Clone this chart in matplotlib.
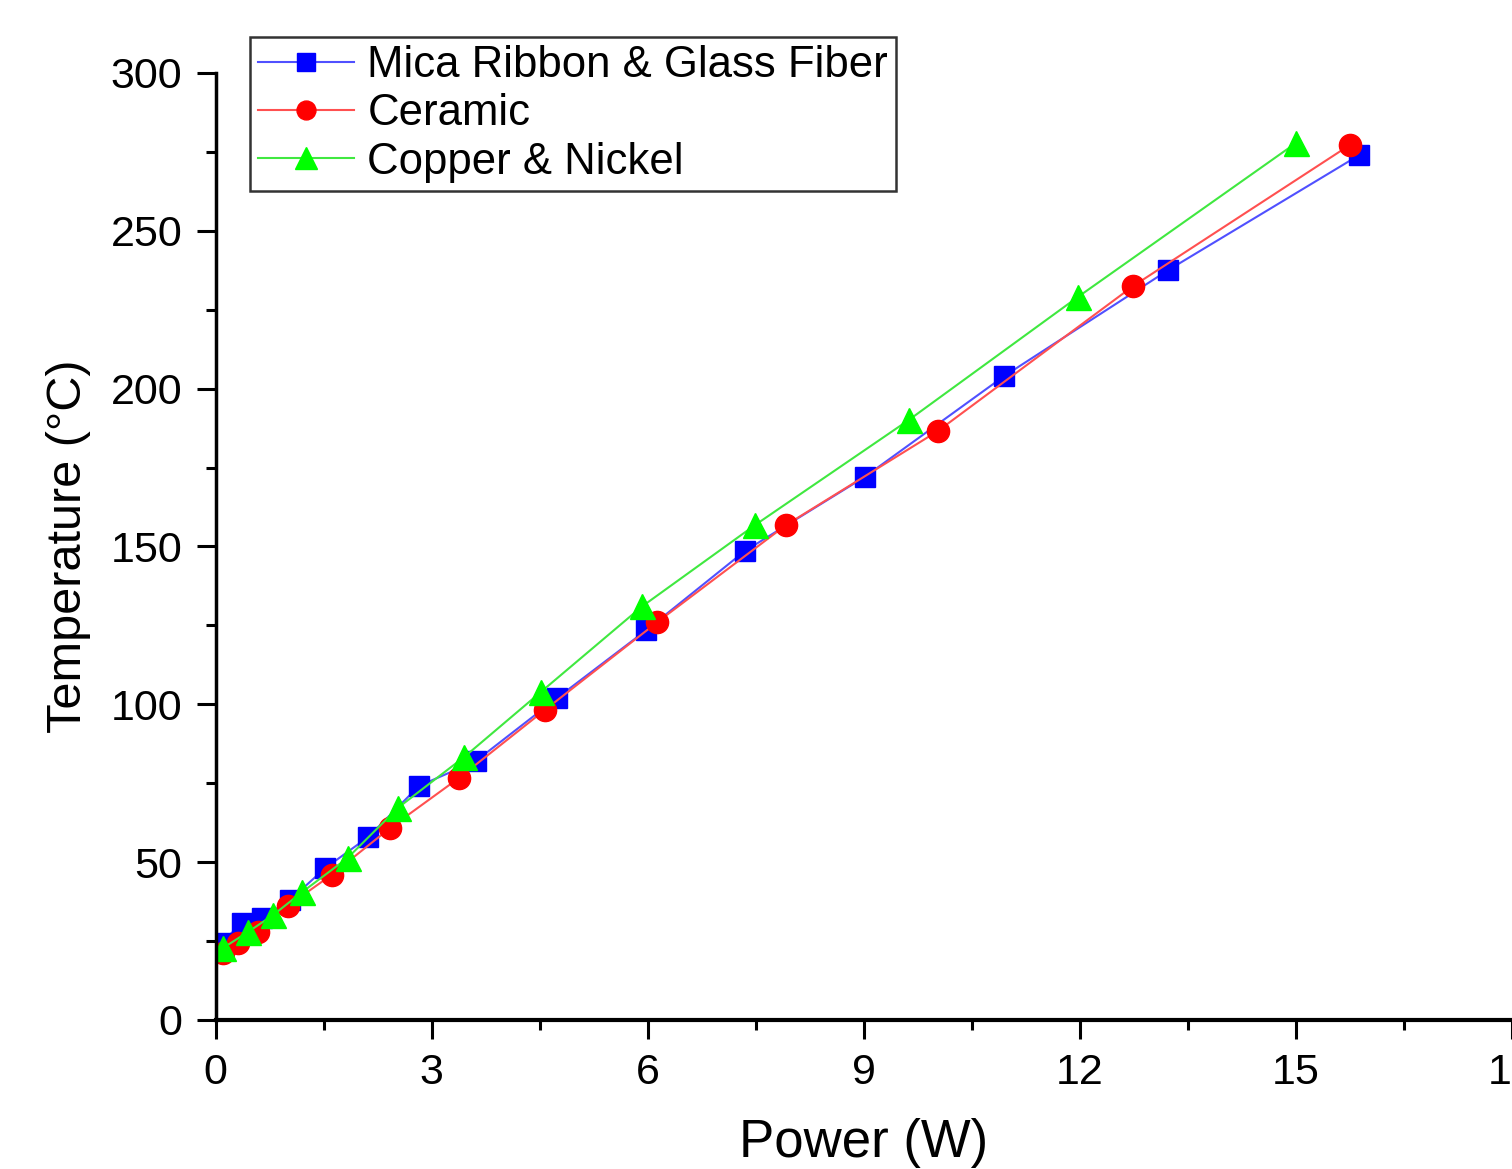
import matplotlib.pyplot as plt
from matplotlib.ticker import MultipleLocator

# heater measurements: power (W) vs temperature (°C)
mica_power = [0.08, 0.36, 0.64, 1.03, 1.52, 2.12, 2.82, 3.61, 4.74, 5.98, 7.35, 9.01, 10.95, 13.23, 15.88]
mica_temp = [24.4, 30.7, 32.3, 38.0, 48.1, 58.0, 74.1, 82.0, 102.0, 123.5, 148.6, 172.0, 204.0, 237.6, 274.0]

ceramic_power = [0.10, 0.31, 0.59, 1.00, 1.61, 2.42, 3.38, 4.57, 6.13, 7.92, 10.03, 12.74, 15.75]
ceramic_temp = [21.2, 24.4, 27.9, 36.1, 46.0, 60.8, 76.7, 98.2, 126.0, 156.8, 186.6, 232.5, 277.2]

copper_power = [0.10, 0.45, 0.80, 1.20, 1.83, 2.53, 3.45, 4.52, 5.92, 7.49, 9.62, 11.97, 15.00]
copper_temp = [22.8, 27.9, 33.3, 40.5, 51.3, 67.2, 83.3, 104.0, 131.0, 156.8, 190.0, 229.0, 277.8]

plt.rcParams['font.family'] = ['Liberation Sans', 'DejaVu Sans']

fig = plt.figure(figsize=(15.12, 11.69), dpi=100)
ax = fig.add_axes([0.1427, 0.1275, 0.8573, 0.8101])

ax.plot(mica_power, mica_temp, color='#5050ff', lw=1.5, marker='s', ms=15,
        mfc='#0000ff', mec='#0000ff', label='Mica Ribbon & Glass Fiber')
ax.plot(ceramic_power, ceramic_temp, color='#ff5050', lw=1.5, marker='o', ms=16,
        mfc='#ff0000', mec='#ff0000', label='Ceramic')
ax.plot(copper_power, copper_temp, color='#40e840', lw=1.5, marker='^', ms=18,
        mfc='#00ff00', mec='#00ff00', label='Copper & Nickel')

ax.set_xlim(0, 18)
ax.set_ylim(0, 300)
ax.xaxis.set_major_locator(MultipleLocator(3))
ax.xaxis.set_minor_locator(MultipleLocator(1.5))
ax.yaxis.set_major_locator(MultipleLocator(50))
ax.yaxis.set_minor_locator(MultipleLocator(25))

ax.spines['top'].set_visible(False)
ax.spines['right'].set_visible(False)
ax.spines['left'].set_linewidth(2.5)
ax.spines['bottom'].set_linewidth(3)
ax.tick_params(which='major', direction='out', length=14, width=2.2, labelsize=31, pad=10)
ax.tick_params(which='minor', direction='out', length=7, width=2.2)

ax.set_xlabel('Power (W)', fontsize=38, labelpad=18)
ax.set_ylabel('Temperature (°C)', fontsize=35, labelpad=14)

leg = ax.legend(loc='upper left', bbox_to_anchor=(250 / 1512, 1 - 37 / 1169),
                bbox_transform=fig.transFigure, borderaxespad=0, fontsize=31.5,
                handlelength=2.2, handletextpad=0.3, labelspacing=0.17,
                borderpad=0.18, fancybox=False, edgecolor='black', markerscale=0.85)
leg.get_frame().set_linewidth(1.8)

fig.savefig('out.png', dpi=100)
